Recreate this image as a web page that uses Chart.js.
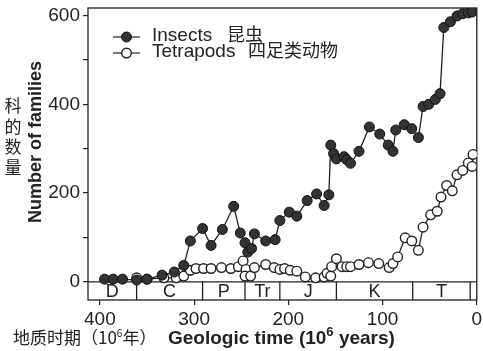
<!DOCTYPE html>
<html>
<head>
<meta charset="utf-8">
<script src="https://cdn.jsdelivr.net/npm/chart.js@4"></script>
<style>
  body { margin: 0; background: #fff; }
  canvas { display: block; }
</style>
</head>
<body>
<canvas id="families" width="483" height="351"></canvas>
<script>
// ages in millions of years before present, families counted
const insectAge = [395, 386, 376, 361, 350, 334, 321, 311, 304, 291, 282, 270, 258, 251, 246, 243, 239, 236,
    224, 214, 209, 199, 191, 180, 170, 162, 157, 155, 152, 149, 141, 138, 134, 125, 114, 103, 94, 89, 86,
    77, 69, 62, 57, 51, 44, 39, 35, 28, 21, 15, 9, 5]
const insectFamilies = [6, 6, 6, 4, 6, 15, 22, 37, 92, 120, 82, 118, 170, 110, 88, 67, 75, 108,
    92, 95, 138, 157, 148, 183, 198, 172, 196, 308, 289, 277, 282, 275, 267, 294, 349, 333, 308, 294, 342,
    354, 345, 325, 395, 400, 411, 424, 573, 586, 599, 604, 606, 608]

const tetrapodAge = [361, 350, 332, 319, 311, 304, 298, 290, 282, 271, 261, 253, 248, 245, 246, 240, 236,
    224, 215, 209, 204, 198, 191, 182, 171, 162, 159, 155, 154, 149, 143, 138, 134, 125, 115, 104, 93, 89,
    84, 76, 69, 62, 57, 49, 42, 38, 32, 26, 21, 15, 9, 5, 4]
const tetrapodFamilies = [9, 6, 9, 9, 13, 26, 30, 30, 30, 32, 30, 34, 47, 28, 13, 13, 32,
    39, 32, 28, 30, 26, 24, 11, 9, 11, 19, 13, 34, 52, 34, 34, 34, 39, 43, 41, 32, 41,
    56, 99, 92, 71, 123, 151, 159, 191, 217, 205, 241, 251, 268, 260, 287]

const periods = ['D', 'C', 'P', 'Tr', 'J', 'K', 'T']
const periodEnds = [361, 291, 246, 209, 149, 68, 7]

const xTicks = [0, 100, 200, 300, 400]
const yTicks = [0, 100, 200, 300, 400, 500, 600]

const sans = '"Liberation Sans", Arial, sans-serif'
const cjk = '"Noto Sans CJK SC", sans-serif'
const ink = '#222'

function pts(xs, ys) {
    return xs.map((x, i) => ({ x: x, y: ys[i] }))
}

function drawRuns(ctx, x, y, runs) {
    runs.forEach(r => {
        ctx.font = r.font
        ctx.fillText(r.t, x, y + (r.dy || 0))
        x += ctx.measureText(r.t).width
    })
}

const frame = {
    id: 'frame',
    beforeDatasetsDraw(chart) {
        const ctx = chart.ctx
        const a = chart.chartArea
        const xs = chart.scales.x
        const ys = chart.scales.y
        ctx.save()
        ctx.strokeStyle = ink
        ctx.lineWidth = 1.3
        ctx.strokeRect(a.left, a.top, a.right - a.left, a.bottom - a.top)
        // period bar under zero
        const y0 = ys.getPixelForValue(0)
        ctx.beginPath()
        ctx.moveTo(a.left, y0)
        ctx.lineTo(a.right, y0)
        periodEnds.forEach(v => {
            const px = xs.getPixelForValue(v)
            ctx.moveTo(px, y0)
            ctx.lineTo(px, a.bottom)
        })
        ctx.stroke()
        ctx.fillStyle = ink
        ctx.font = '18px ' + sans
        ctx.textAlign = 'center'
        ctx.textBaseline = 'middle'
        let start = xs.max
        periods.forEach((p, i) => {
            const mid = (xs.getPixelForValue(start) + xs.getPixelForValue(periodEnds[i])) / 2
            ctx.fillText(p, mid, (y0 + a.bottom) / 2 + 1)
            start = periodEnds[i]
        })
        ctx.restore()
    },
    afterDraw(chart) {
        const ctx = chart.ctx
        ctx.save()
        ctx.fillStyle = ink
        ctx.textBaseline = 'alphabetic'
        ctx.textAlign = 'left'

        // x title
        drawRuns(ctx, 13, 344, [
            { t: '地质时期（10', font: '17px ' + cjk },
            { t: '6', font: '10px ' + cjk, dy: -7 },
            { t: '年）', font: '17px ' + cjk }
        ])
        drawRuns(ctx, 168, 344, [
            { t: 'Geologic time (10', font: 'bold 19px ' + sans },
            { t: '6', font: 'bold 13px ' + sans, dy: -8 },
            { t: ' years)', font: 'bold 19px ' + sans }
        ])

        // y title
        ctx.save()
        ctx.translate(36, 142)
        ctx.rotate(-Math.PI / 2)
        ctx.textAlign = 'center'
        ctx.textBaseline = 'middle'
        ctx.font = 'bold 18px ' + sans
        ctx.fillText('Number of families', 0, 0)
        ctx.restore()
        ctx.textAlign = 'center'
        ctx.textBaseline = 'middle'
        ctx.font = '17px ' + cjk
        ;['科', '的', '数', '量'].forEach((c, i) => ctx.fillText(c, 13, 106 + i * 20.5))

        // legend
        const rows = [
            { ds: chart.data.datasets[0], y: 37, label: 'Insects', zh: '昆虫', zx: 227 },
            { ds: chart.data.datasets[1], y: 53, label: 'Tetrapods', zh: '四足类动物', zx: 248 }
        ]
        rows.forEach(r => {
            ctx.strokeStyle = ink
            ctx.lineWidth = 1.2
            ctx.beginPath()
            ctx.moveTo(113, r.y)
            ctx.lineTo(140, r.y)
            ctx.stroke()
            ctx.beginPath()
            ctx.arc(126.5, r.y, r.ds.pointRadius, 0, Math.PI * 2)
            ctx.fillStyle = r.ds.pointBackgroundColor
            ctx.fill()
            ctx.lineWidth = r.ds.pointBorderWidth
            ctx.strokeStyle = r.ds.pointBorderColor
            ctx.stroke()
            ctx.fillStyle = ink
            ctx.textAlign = 'left'
            ctx.textBaseline = 'alphabetic'
            ctx.font = '19px ' + sans
            ctx.fillText(r.label, 152, r.y + 4)
            ctx.font = '18px ' + cjk
            ctx.fillText(r.zh, r.zx, r.y + 4)
        })
        ctx.restore()
    }
}

new Chart(document.getElementById('families'), {
    type: 'line',
    data: {
        datasets: [{
            label: 'Insects 昆虫',
            data: pts(insectAge, insectFamilies),
            borderColor: ink,
            borderWidth: 1.3,
            pointRadius: 5,
            pointBackgroundColor: '#333',
            pointBorderColor: '#111',
            pointBorderWidth: 1,
            tension: 0
        }, {
            label: 'Tetrapods 四足类动物',
            data: pts(tetrapodAge, tetrapodFamilies),
            borderColor: ink,
            borderWidth: 1.3,
            pointRadius: 4.8,
            pointBackgroundColor: '#fff',
            pointBorderColor: '#222',
            pointBorderWidth: 1.4,
            tension: 0
        }]
    },
    options: {
        responsive: false,
        animation: false,
        layout: { padding: { top: 8, right: 1, left: 0, bottom: 0 } },
        plugins: {
            legend: { display: false },
            tooltip: { enabled: false }
        },
        scales: {
            x: {
                type: 'linear',
                reverse: true,
                min: 0,
                max: 412.6,
                afterBuildTicks: s => { s.ticks = xTicks.map(v => ({ value: v })) },
                afterFit: s => { s.height = 51; s.paddingLeft = 0; s.paddingRight = 0 },
                border: { display: false },
                grid: { drawOnChartArea: false, drawTicks: true, tickLength: 5, color: ink, lineWidth: 1.2 },
                ticks: { color: ink, padding: 3, maxRotation: 0, font: { family: sans, size: 19 } }
            },
            y: {
                min: -41,
                max: 617,
                afterBuildTicks: s => { s.ticks = yTicks.map(v => ({ value: v })) },
                afterFit: s => { s.width = 88; s.paddingTop = 0; s.paddingBottom = 0 },
                border: { display: false },
                grid: { drawOnChartArea: false, drawTicks: true, tickLength: 5, color: ink, lineWidth: 1.2 },
                ticks: {
                    color: ink,
                    padding: 3,
                    font: { family: sans, size: 19 },
                    callback: v => (v % 200 === 0 ? v : '')
                }
            }
        }
    },
    plugins: [frame]
});
</script>
</body>
</html>
